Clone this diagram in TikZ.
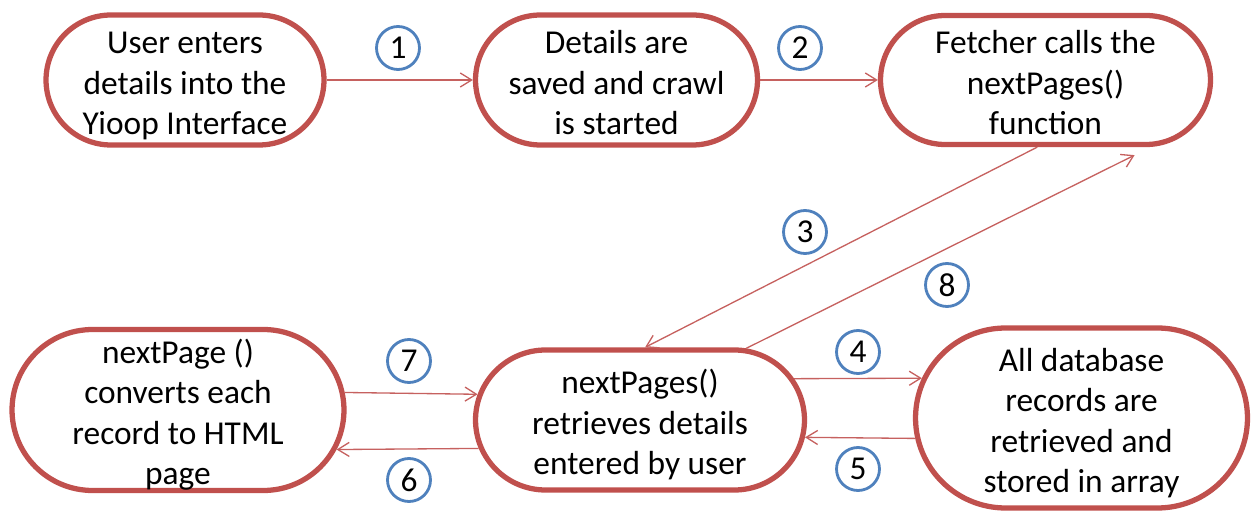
\documentclass[tikz,border=0pt]{standalone}
\usepackage{fontspec}
\setmainfont{Carlito}
\usetikzlibrary{shapes.misc,arrows.meta}

\definecolor{boxred}{HTML}{C0504D}
\definecolor{numblue}{HTML}{4F81BD}

\newcommand{\boxlines}[1]{\makebox[0pt]{\raisebox{-0.12cm}[\height][\depth]{\begin{tabular}{@{}c@{}}#1\end{tabular}}}}

\begin{document}
\begin{tikzpicture}[x=0.02cm,y=0.02cm,
    >={Straight Barb[length=6.5pt,width=8pt]},
    stage/.style={draw=boxred,line width=3pt,rounded rectangle,inner sep=0pt,font=\fontsize{19}{22.8}\selectfont},
    num/.style={draw=numblue,line width=1.6pt,circle,fill=white,minimum size=0.86cm,inner sep=0pt,font=\fontsize{19}{22}\selectfont},
    flow/.style={->,draw=boxred!90!white,line width=0.75pt}]

    \useasboundingbox (0,0) rectangle (1251,514);

    \node[stage,minimum width=5.56cm,minimum height=2.6cm] (user) at (185,434) {\boxlines{User enters\\details into the\\Yioop Interface}};
    \node[stage,minimum width=5.64cm,minimum height=2.6cm] (saved) at (616.5,434) {\boxlines{Details are\\saved and crawl\\is started}};
    \node[stage,minimum width=6.6cm,minimum height=2.58cm] (fetch) at (1045.5,434) {\boxlines{Fetcher calls the\\nextPages()\\function}};

    %%%%%%%%%%BOTTOM ROW%%%%%%%%%%%%%%%%

    \node[stage,minimum width=6.64cm,minimum height=3.22cm] (conv) at (178,104) {\boxlines{nextPage ()\\converts each\\record to HTML\\page}};
    \node[stage,minimum width=6.58cm,minimum height=2.8cm] (retr) at (640,94) {\boxlines{nextPages()\\retrieves details\\entered by user}};
    \node[stage,minimum width=6.64cm,minimum height=3.6cm] (rec) at (1081.5,96) {\boxlines{All database\\records are\\retrieved and\\stored in array}};

    \draw[flow] (user.east) to (saved.west);
    \draw[flow] (saved.east) to (fetch.west);
    \draw[flow] (fetch.-97) to (retr.86);
    \draw[flow] (retr.15) to (rec.166);
    \draw[flow] (rec.187) to (retr.-6);
    \draw[flow] (retr.190) to (conv.-14);
    \draw[flow] (conv.6) to (retr.171);
    \draw[flow] (retr.34) to ([yshift=-0.16cm]fetch.-37);

    % step numbers
    \node[num] (n1) at (398,466) {1};
    \node[num] (n2) at (800,466) {2};
    \node[num] (n3) at (805,282) {3};
    \node[num] (n4) at (858,162) {4};
    \node[num] (n5) at (858,45) {5};
    \node[num] (n6) at (409,34) {6};
    \node[num] (n7) at (409,153) {7};
    \node[num] (n8) at (947,229) {8};

\end{tikzpicture}
\end{document}
